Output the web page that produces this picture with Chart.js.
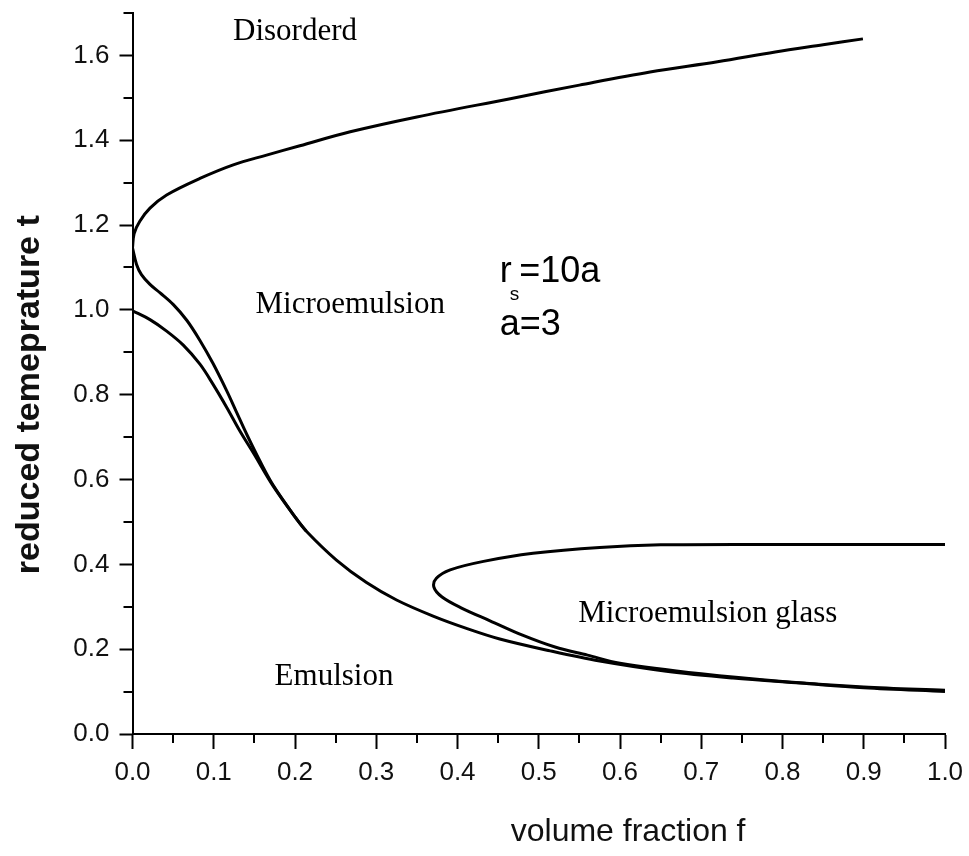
<!DOCTYPE html>
<html><head><meta charset="utf-8">
<script src="https://cdn.jsdelivr.net/npm/chart.js@4/dist/chart.umd.min.js"></script>
<style>html,body{margin:0;padding:0;background:#fff}#wrap{width:969px;height:856px}</style>
</head><body><div id="wrap"><canvas id="c" width="969" height="856"></canvas></div>
<script>
// ---- tick values ----
const xMajorTicks = [0.0,0.1,0.2,0.3,0.4,0.5,0.6,0.7,0.8,0.9,1.0];
const xMinorTicks = [0.05,0.15,0.25,0.35,0.45,0.55,0.65,0.75,0.85,0.95];
const yMajorTicks = [0.0,0.2,0.4,0.6,0.8,1.0,1.2,1.4,1.6];
const yMinorTicks = [0.1,0.3,0.5,0.7,0.9,1.1,1.3,1.5,1.7];

// ---- curves [f, t] ----
const disorderUpper = [[0.0,1.146],[0.002,1.18],[0.009,1.209],[0.0215,1.24],[0.042,1.271],[0.083,1.31],[0.124,1.342],[0.165,1.365],[0.206,1.387],[0.268,1.42],[0.35,1.455],[0.465,1.498],[0.55,1.53],[0.637,1.561],[0.72,1.585],[0.791,1.608],[0.85,1.625],[0.899,1.639]];
const disorderLower = [[0.0,1.146],[0.005,1.107],[0.011,1.083],[0.0215,1.06],[0.034,1.04],[0.05,1.013],[0.067,0.975],[0.083,0.928],[0.099,0.874],[0.116,0.809],[0.128,0.759],[0.141,0.705],[0.157,0.643],[0.173,0.587],[0.2,0.512],[0.214,0.478]];
const emulsionLine = [[0.0,0.998],[0.0215,0.977],[0.042,0.95],[0.0625,0.917],[0.083,0.872],[0.099,0.825],[0.116,0.77],[0.132,0.715],[0.149,0.662],[0.173,0.585],[0.2,0.512],[0.214,0.478],[0.251,0.41],[0.288,0.357],[0.325,0.316],[0.37,0.278],[0.411,0.249],[0.452,0.224],[0.514,0.196],[0.575,0.172],[0.657,0.148],[0.739,0.132],[0.822,0.12],[0.9,0.109],[1.0,0.100]];
const glassLine = [[1.0,0.447],[0.8,0.447],[0.65,0.446],[0.575,0.44],[0.493,0.426],[0.432,0.407],[0.391,0.387],[0.374,0.367],[0.371,0.346],[0.381,0.323],[0.405,0.297],[0.44,0.267],[0.48,0.233],[0.52,0.205],[0.56,0.186],[0.6,0.167],[0.7,0.142],[0.8,0.124],[0.9,0.111],[1.0,0.103]];

// ---- text ----
const xTitle = 'volume fraction f';
const yTitle = 'reduced temeprature t';
const regionLabels = [
  {text:'Disorderd', f:0.2, t:1.636},
  {text:'Microemulsion', f:0.268, t:0.992},
  {text:'Emulsion', f:0.248, t:0.116},
  {text:'Microemulsion glass', f:0.708, t:0.265}
];
const paramLabels = {r:'r', sub:'s', rest:'=10a', line2:'a=3', f:0.452, t:1.065, t2:0.941};

const toPts = a => a.map(p => ({x:p[0], y:p[1]}));
const lineDs = (d) => ({data: toPts(d), showLine:true, borderColor:'#000', borderWidth:3, pointRadius:0, tension:0.35, fill:false});

const extras = {
  id:'extras',
  afterDraw(chart){
    const ctx = chart.ctx, xs = chart.scales.x, ys = chart.scales.y, ca = chart.chartArea;
    ctx.save();
    ctx.strokeStyle = '#000'; ctx.lineWidth = 2;
    yMinorTicks.forEach(v => { const p = Math.round(ys.getPixelForValue(v)); ctx.beginPath(); ctx.moveTo(ca.left-9,p); ctx.lineTo(ca.left,p); ctx.stroke(); });
    xMinorTicks.forEach(v => { const p = Math.round(xs.getPixelForValue(v)); ctx.beginPath(); ctx.moveTo(p,ca.bottom); ctx.lineTo(p,ca.bottom+9); ctx.stroke(); });
    ctx.fillStyle = '#000';
    ctx.font = '31px "Liberation Serif", "Times New Roman", serif';
    ctx.textAlign = 'center'; ctx.textBaseline = 'alphabetic';
    regionLabels.forEach(l => ctx.fillText(l.text, xs.getPixelForValue(l.f), ys.getPixelForValue(l.t)));
    // parameters
    ctx.textAlign = 'left';
    const px = xs.getPixelForValue(paramLabels.f), py = ys.getPixelForValue(paramLabels.t);
    ctx.font = '36px "Liberation Sans", Arial, sans-serif';
    ctx.fillText(paramLabels.r, px, py);
    const rw = ctx.measureText(paramLabels.r).width;
    ctx.font = '19px "Liberation Sans", Arial, sans-serif';
    ctx.fillText(paramLabels.sub, px+rw-2, py+18);
    const sw = ctx.measureText(paramLabels.sub).width;
    ctx.font = '36px "Liberation Sans", Arial, sans-serif';
    ctx.fillText(paramLabels.rest, px+rw+sw-2, py);
    ctx.fillText(paramLabels.line2, px, ys.getPixelForValue(paramLabels.t2));
    // axis titles
    ctx.fillStyle = '#111';
    ctx.font = '32px "Liberation Sans", Arial, sans-serif';
    ctx.textAlign = 'center'; ctx.textBaseline = 'middle';
    ctx.fillText(xTitle, xs.getPixelForValue(0.61), ca.bottom + 98);
    ctx.save();
    ctx.translate(30, ys.getPixelForValue(0.8));
    ctx.rotate(-Math.PI/2);
    ctx.font = 'bold 34px "Liberation Sans", Arial, sans-serif';
    ctx.fillText(yTitle, 0, 0);
    ctx.restore();
    ctx.restore();
  }
};

new Chart(document.getElementById('c'), {
  type:'scatter',
  data:{datasets:[lineDs(disorderUpper), lineDs(disorderLower), lineDs(emulsionLine), lineDs(glassLine)]},
  options:{
    responsive:false, animation:false, devicePixelRatio:1,
    layout:{padding:{top:13,right:24,left:0,bottom:0}},
    plugins:{legend:{display:false}, tooltip:{enabled:false}},
    scales:{
      x:{type:'linear', min:0, max:1,
        afterBuildTicks: s => { s.ticks = xMajorTicks.map(v => ({value:v})); },
        afterFit: s => { s.height = 122; s.paddingLeft = 0; s.paddingRight = 0; },
        ticks:{callback:v => Number(v).toFixed(1), font:{family:'"Liberation Sans", Arial, sans-serif', size:26}, color:'#111', padding:8, maxRotation:0, autoSkip:false},
        grid:{drawOnChartArea:false, drawTicks:true, tickLength:15, tickWidth:2, tickColor:'#000'},
        border:{display:true, color:'#000', width:2}},
      y:{type:'linear', min:0, max:1.7,
        afterBuildTicks: s => { s.ticks = yMajorTicks.map(v => ({value:v})); },
        afterFit: s => { s.width = 132.5; s.paddingTop = 0; s.paddingBottom = 0; },
        ticks:{callback:v => Number(v).toFixed(1), font:{family:'"Liberation Sans", Arial, sans-serif', size:26}, color:'#111', padding:10, autoSkip:false},
        grid:{drawOnChartArea:false, drawTicks:true, tickLength:13, tickWidth:2, tickColor:'#000'},
        border:{display:true, color:'#000', width:2}}
    }
  },
  plugins:[extras]
});
</script></body></html>
